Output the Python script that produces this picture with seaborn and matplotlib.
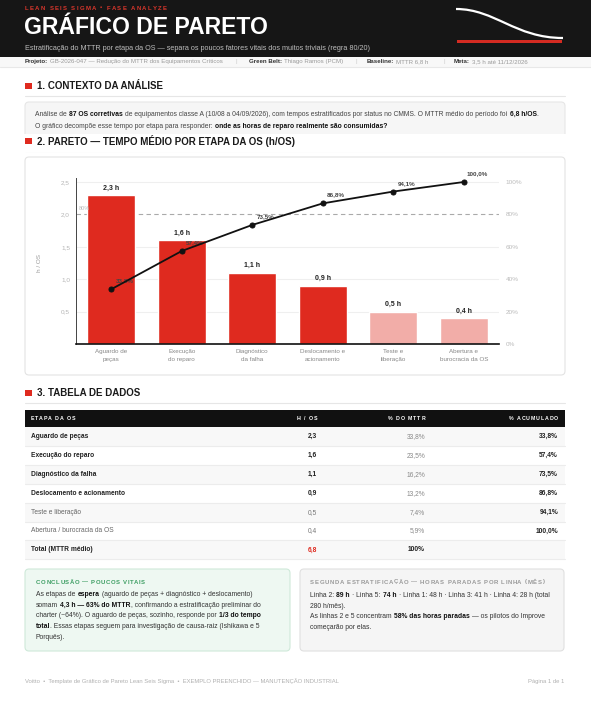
import numpy as np
import pandas as pd
import matplotlib
matplotlib.use("Agg")
import matplotlib.pyplot as plt
from matplotlib.patches import FancyBboxPatch, PathPatch
from matplotlib.path import Path
from matplotlib.lines import Line2D
from matplotlib.transforms import IdentityTransform
import seaborn as sns

# ---- dados ----
ETAPAS = ["Aguardo de\npeças", "Execução\ndo reparo", "Diagnóstico\nda falha",
          "Deslocamento e\nacionamento", "Teste e\nliberação", "Abertura e\nburocracia da OS"]
ETAPAS_TABELA = ["Aguardo de peças", "Execução do reparo", "Diagnóstico da falha",
                 "Deslocamento e acionamento", "Teste e liberação", "Abertura / burocracia da OS"]
HORAS     = [2.3, 1.6, 1.1, 0.9, 0.5, 0.4]
PCT_MTTR  = [33.8, 23.5, 16.2, 13.2, 7.4, 5.9]
PCT_ACUM  = [33.8, 57.4, 73.5, 86.8, 94.1, 100.0]
VITAL     = [True, True, True, True, False, False]
MTTR_TOTAL = 6.8
Y_TICKS   = [0.5, 1.0, 1.5, 2.0, 2.5]
Y2_TICKS  = [0, 20, 40, 60, 80, 100]
LINHA_REF = 2.0   # 80 % no eixo secundário

W, H = 591, 702
RED, PINK, DARK = "#df2a1f", "#f2ada8", "#161616"

sns.set_theme(style="white")
plt.rcParams["font.family"] = ["Liberation Sans", "DejaVu Sans"]

fig = plt.figure(figsize=(W / 100, H / 100), dpi=100, facecolor="white")
R = fig.canvas.get_renderer()


# ---- helpers (coordenadas em pixels, y a partir do topo) ----
def box(x0, y0, x1, y1, fc, ec="none", lw=0.8, r=0, z=0.5):
    style = f"round,pad=0,rounding_size={r}" if r else "square,pad=0"
    fig.add_artist(FancyBboxPatch((x0, H - y1), x1 - x0, y1 - y0, boxstyle=style,
                                  fc=fc, ec=ec, lw=lw, transform=IdentityTransform(), zorder=z))


def hline(x0, x1, y, color="#e6e6e6", lw=0.8, z=0.6):
    fig.add_artist(Line2D([x0, x1], [H - y, H - y], color=color, lw=lw,
                          transform=IdentityTransform(), zorder=z))


def text(x, y, s, size, color="#333", weight="normal", ha="left", va="center", **kw):
    return fig.text(x / W, 1 - y / H, s, fontsize=size, color=color,
                    fontweight=weight, ha=ha, va=va, **kw)


_cache = {}
def measure(s, size, weight="normal"):
    key = (size, weight)
    if key not in _cache:
        t = fig.text(0, 0, "||", fontsize=size, fontweight=weight)
        _cache[key] = t.get_window_extent(R).width
        t.remove()
    t = fig.text(0, 0, "|" + s + "|", fontsize=size, fontweight=weight)
    w = t.get_window_extent(R).width
    t.remove()
    return w - _cache[key]


def rich(x, y, segs, size, color="#333", bcolor="#111"):
    for s, bold in segs:
        wt = "bold" if bold else "normal"
        lead = len(s) - len(s.lstrip(" "))
        body = s.strip(" ")
        if lead:
            x += 0.5
        if body:
            text(x + measure(" " * lead, size, wt), y, body, size,
                 bcolor if bold else color, wt)
        x += measure(s, size, wt)
        if s.endswith(" "):
            x += 0.5


def spaced(x, y, s, size, color, sp, weight="bold", ha="left"):
    widths = [measure(c, size, weight) for c in s]
    total = sum(widths) + sp * (len(s) - 1)
    if ha == "right":
        x -= total
    for c, w in zip(s, widths):
        if c != " ":
            text(x, y, c, size, color, weight)
        x += w + sp


def secao(y, titulo):
    box(25, y - 3.2, 31.5, y + 3.2, RED, z=0.7)
    text(37, y + 0.3, titulo, 7, "#1a1a1a", "bold")
    hline(25, 565, y + 9.5)


def br(v, suf=""):
    return f"{v:.1f}".replace(".", ",") + suf


# ---- cabeçalho ----
box(0, 0, W, 57, DARK)
spaced(25, 8, "LEAN SEIS SIGMA • FASE ANALYZE", 4.3, "#d9362c", 1.3)
text(24, 28, "GRÁFICO DE PARETO", 16.6, "white", "bold")
text(25, 48, "Estratificação do MTTR por etapa da OS — separa os poucos fatores vitais "
     "dos muitos triviais (regra 80/20)", 5.25, "#bdbdbd")
curva = Path([(456, H - 9), (495, H - 9), (515, H - 38), (563, H - 38)],
             [Path.MOVETO, Path.CURVE4, Path.CURVE4, Path.CURVE4])
fig.add_artist(PathPatch(curva, fc="none", ec="white", lw=1.6,
                         transform=IdentityTransform(), zorder=0.8))
box(457, 40, 562, 43, "#d42b22", z=0.8)

box(0, 57, W, 67, "#f8f8f8")
hline(0, W, 67, "#e8e8e8")
rich(25, 61.5, [("Projeto: ", True), ("GB-2026-047 — Redução do MTTR dos Equipamentos Críticos", False)],
     4.4, "#9a9a9a", "#333")
rich(249, 61.5, [("Green Belt: ", True), ("Thiago Ramos (PCM)", False)], 4.4, "#9a9a9a", "#333")
rich(367, 61.5, [("Baseline: ", True), ("MTTR 6,8 h", False)], 4.4, "#9a9a9a", "#333")
rich(454, 61.5, [("Meta: ", True), ("3,5 h até 11/12/2026", False)], 4.4, "#9a9a9a", "#333")
for xs in (236, 355, 443):
    text(xs, 61.5, "|", 4.4, "#cccccc")

# ---- 1. contexto ----
secao(86, "1. CONTEXTO DA ANÁLISE")
box(25, 102, 565, 146, "#f6f6f6", "#e6e6e6", r=4)
rich(35, 114.5, [("Análise de ", False), ("87 OS corretivas", True),
                 (" de equipamentos classe A (10/08 a 04/09/2026), com tempos estratificados por "
                  "status no CMMS. O MTTR médio do período foi ", False), ("6,8 h/OS", True), (".", False)],
     4.9, "#444", "#111")
rich(35, 126, [("O gráfico decompõe esse tempo por etapa para responder: ", False),
               ("onde as horas de reparo realmente são consumidas?", True)], 4.9, "#444", "#111")

# ---- 2. pareto ----
box(0, 134, W, 152, "white", z=0.65)
secao(141, "2. PARETO — TEMPO MÉDIO POR ETAPA DA OS (h/OS)")
box(25, 157, 565, 375, "white", "#e3e3e3", r=4)

ax = fig.add_axes([76 / W, 1 - 344 / H, 423 / W, 166 / H])
ax.set_zorder(3)
ax.patch.set_alpha(0)
df = pd.DataFrame({"etapa": ETAPAS, "horas": HORAS})
cores = [RED if v else PINK for v in VITAL]
sns.barplot(data=df, x="etapa", y="horas", hue="etapa", palette=cores, legend=False,
            width=0.68, saturation=1, ax=ax, zorder=2)
ymax = 2.5 * 166 / 162
ax.set_ylim(0, ymax)
ax.set_yticks(Y_TICKS)
ax.set_yticklabels([br(t) for t in Y_TICKS])
ax.tick_params(axis="y", length=0, pad=4.3, labelsize=4.6, labelcolor="#b5b5b5")
ax.tick_params(axis="x", length=0, pad=3.5, labelsize=4.5, labelcolor="#888")
for lbl in ax.get_xticklabels():
    lbl.set_linespacing(1.75)
for t in Y_TICKS:
    if t != LINHA_REF:
        ax.axhline(t, color="#efefef", lw=0.8, zorder=0)
ax.axhline(LINHA_REF, color="#aaaaaa", lw=0.8, ls=(0, (4, 3)), zorder=1)
ax.annotate("80%", (-0.5, LINHA_REF), xytext=(2, 4), textcoords="offset points",
            ha="left", va="center", fontsize=4, color="#bbbbbb")
ax.set_xlabel("")
ax.set_ylabel("")
for sp in ("top", "right"):
    ax.spines[sp].set_visible(False)
ax.spines["left"].set_color("#444")
ax.spines["left"].set_linewidth(0.7)
ax.spines["bottom"].set_color("#111")
ax.spines["bottom"].set_linewidth(1.2)
for i, h in enumerate(HORAS):
    ax.annotate(br(h, " h"), (i, h), xytext=(0, 5), textcoords="offset points",
                ha="center", va="center", fontsize=5, fontweight="bold", color="#222")

ax2 = ax.twinx()
ax2.set_zorder(4)
ax2.patch.set_alpha(0)
sns.lineplot(x=np.arange(len(PCT_ACUM)), y=PCT_ACUM, ax=ax2, color="#111", lw=1.3,
             marker="o", markersize=3.6, markeredgecolor="#111", zorder=5)
ax2.set_ylim(0, 100 * ymax / 2.5)
ax.set_xlim(-0.5, len(HORAS) - 0.5)
ax2.set_yticks(Y2_TICKS)
ax2.set_yticklabels([f"{t}%" for t in Y2_TICKS])
ax2.tick_params(axis="y", length=0, pad=5, labelsize=4.6, labelcolor="#bbbbbb")
ax2.grid(False)
ax2.set_ylabel("")
for sp in ax2.spines.values():
    sp.set_visible(False)
for i, v in enumerate(PCT_ACUM):
    ax2.annotate(br(v, "%"), (i, v), xytext=(9.5, 6), textcoords="offset points",
                 ha="center", va="center", fontsize=4.5, fontweight="bold", color="#444")
text(37, 263, "h / OS", 4.6, "#999", rotation=90)

# ---- 3. tabela ----
secao(393, "3. TABELA DE DADOS")
box(25, 410, 565, 427, "#111111")
spaced(31, 418.5, "ETAPA DA OS", 3.8, "white", 0.8)
spaced(317, 418.5, "H / OS", 3.8, "white", 0.8, ha="right")
spaced(425, 418.5, "% DO MTTR", 3.8, "white", 0.8, ha="right")
spaced(558, 418.5, "% ACUMULADO", 3.8, "white", 0.8, ha="right")
RH = 18.9
for i in range(len(ETAPAS_TABELA) + 1):
    y0 = 427 + i * RH
    if i % 2 == 0:
        box(25, y0, 565, y0 + RH, "#f8f8f8")
    hline(25, 565, y0 + RH, "#ececec")
for i, nome in enumerate(ETAPAS_TABELA):
    yc = 427 + i * RH + RH / 2
    wt = "bold" if VITAL[i] else "normal"
    c1 = "#222" if VITAL[i] else "#666"
    text(31, yc, nome, 4.8, c1, wt)
    text(317, yc, br(HORAS[i]), 4.8, "#222" if VITAL[i] else "#777", wt, ha="right")
    text(425, yc, br(PCT_MTTR[i], "%"), 4.8, "#888", ha="right")
    text(558, yc, br(PCT_ACUM[i], "%"), 4.8, "#222", "bold", ha="right")
yc = 427 + len(ETAPAS_TABELA) * RH + RH / 2
text(31, yc, "Total (MTTR médio)", 4.8, "#222", "bold")
text(317, yc, br(MTTR_TOTAL), 4.8, RED, "bold", ha="right")
text(425, yc, "100%", 4.8, "#222", "bold", ha="right")

# ---- caixas finais ----
box(25, 569, 290, 651, "#eef8f2", "#cfe9d9", r=4)
spaced(36, 582, "CONCLUSÃO — POUCOS VITAIS", 4.3, "#3d9e63", 0.6)
LS = 10.7
linhas_conc = [
    [("As etapas de ", False), ("espera", True), (" (aguardo de peças + diagnóstico + deslocamento)", False)],
    [("somam ", False), ("4,3 h — 63% do MTTR", True), (", confirmando a estratificação preliminar do", False)],
    [("charter (~64%). O aguardo de peças, sozinho, responde por ", False), ("1/3 do tempo", True)],
    [("total", True), (". Essas etapas seguem para investigação de causa-raiz (Ishikawa e 5", False)],
    [("Porquês).", False)],
]
for k, segs in enumerate(linhas_conc):
    rich(36, 594.5 + k * LS, segs, 4.9, "#333", "#111")

box(300, 569, 564, 651, "#f5f5f5", "#e0e0e0", r=4)
spaced(310, 582, "SEGUNDA ESTRATIFICAÇÃO — HORAS PARADAS POR LINHA (MÊS)", 4.3, "#9a9a9a", 0.65)
linhas_seg = [
    [("Linha 2: ", False), ("89 h", True), (" · Linha 5: ", False), ("74 h", True),
     (" · Linha 1: 48 h · Linha 3: 41 h · Linha 4: 28 h (total", False)],
    [("280 h/mês).", False)],
    [("As linhas 2 e 5 concentram ", False), ("58% das horas paradas", True),
     (" — os pilotos do Improve", False)],
    [("começarão por elas.", False)],
]
for k, segs in enumerate(linhas_seg):
    rich(310, 595.5 + k * LS, segs, 4.9, "#333", "#111")

# ---- rodapé ----
text(25, 681, "Voitto  •  Template de Gráfico de Pareto Lean Seis Sigma  •  "
     "EXEMPLO PREENCHIDO — MANUTENÇÃO INDUSTRIAL", 4.2, "#b0b0b0")
text(564, 681, "Página 1 de 1", 4.2, "#b0b0b0", ha="right")

fig.savefig("out.png", dpi=100, facecolor="white")
